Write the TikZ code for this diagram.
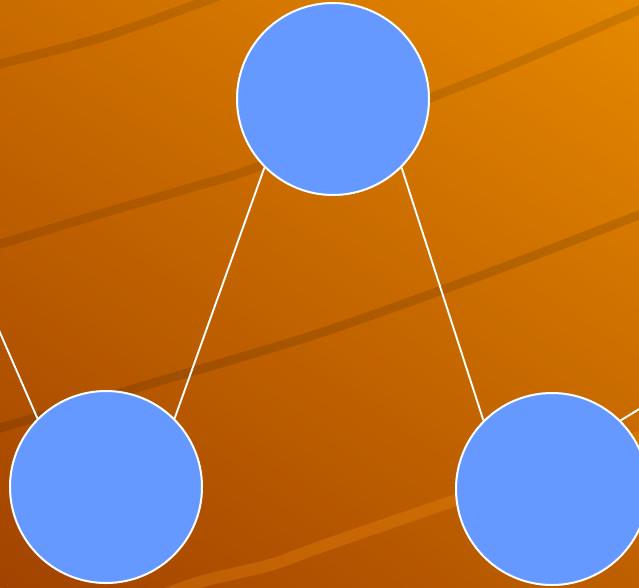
\documentclass[tikz,border=0pt]{standalone}
\definecolor{bgdark}{HTML}{A24300}
\definecolor{bglight}{HTML}{E58800}
\definecolor{nodeblue}{HTML}{6699FF}
\definecolor{glowcol}{HTML}{FF9A10}
\begin{document}
\begin{tikzpicture}[x=1pt,y=-1pt,
  vertex/.style={circle, fill=nodeblue, draw=white, line width=2pt,
                 minimum size=192pt, inner sep=0pt},
  link/.style={draw=white, line width=1.9pt},
  band/.style={line width=9pt, draw=black, draw opacity=0.1, line cap=round},
  glow/.style={line width=12pt, draw=glowcol, draw opacity=0.25, line cap=round}]
\useasboundingbox (0,0) rectangle (639,587);
\clip (0,0) rectangle (639,587);

% backdrop: linear gradient built from thin strips, light towards the upper right
\begin{scope}[shift={(319.5,293.5)}, rotate=-33]
  \foreach \i in {0,...,83} {
    \pgfmathsetmacro\p{100-(\i+0.5)*100/84}
    \fill[bglight!\p!bgdark] (-520,{-420+\i*10}) rectangle (520,{-420+\i*10+10.6});
  }
\end{scope}

% sweeping stripes across the backdrop
\draw[band] plot[smooth] coordinates {(-20,70) (0,64) (100,38) (200,3) (250,-16)};
\draw[band] plot[smooth] coordinates {(-20,250) (0,244) (100,214) (200,185) (260,166) (430,98) (500,70) (639,10) (680,-8)};
\draw[band, draw opacity=0.12] plot[smooth] coordinates {(-20,434) (0,428) (160,381) (320,333) (480,276) (639,215) (680,199)};
\draw[glow] plot[smooth] coordinates {(140,604) (200,582) (270,565) (320,547) (456,500) (639,437) (680,422)};

% nodes
\node[vertex] (top) at (333,99) {};
\node[vertex] (bl)  at (106,487) {};
\node[vertex] (br)  at (552,489) {};
\coordinate (outleft)  at (-60,195);
\coordinate (outright) at (700,372);

% connectors
\draw[link] (top.south west) -- (bl.north east);
\draw[link] (top.south east) -- (br.north west);
\draw[link] (bl.north west) -- (outleft);
\draw[link] (br.north east) -- (outright);
\end{tikzpicture}
\end{document}
